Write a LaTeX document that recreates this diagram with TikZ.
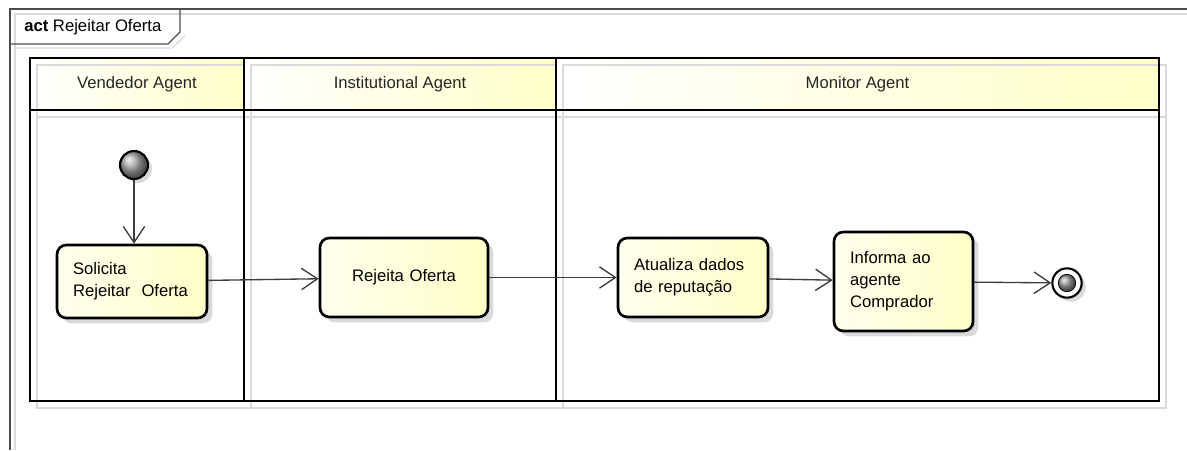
\documentclass[tikz,border=0pt]{standalone}
\usepackage{fontspec}
\setmainfont{Liberation Sans}
\usetikzlibrary{arrows.meta,shadows}
\definecolor{actfill}{RGB}{255,255,200}
\definecolor{actlight}{RGB}{255,255,238}
\definecolor{shadowgray}{RGB}{218,218,218}
\definecolor{flowgray}{RGB}{60,60,60}
\tikzset{
  txt/.style={font=\fontsize{12.5}{16.5}\selectfont},
  action/.style={txt, draw=black, line width=2pt, rounded corners=7pt,
    left color=actlight, right color=actfill, inner xsep=12pt, align=left,
    drop shadow={shadow xshift=4pt, shadow yshift=-4pt, fill=shadowgray, opacity=1}},
  flow/.style={draw=flowgray, line width=1pt, -{Straight Barb[length=12pt,width=16pt]}},
  lanehead/.style={txt, text=black!85},
  laneline/.style={line width=2.2pt, draw=black},
  laneshadow/.style={line width=1.6pt, draw=shadowgray},
}
\begin{document}
\begin{tikzpicture}[x=0.75pt,y=-0.75pt]
    \useasboundingbox[fill=white] (0,0) rectangle (1187,450);
    % frame
    \draw [shadowgray, line width=1pt] (15,450) -- (15,14) -- (1187,14);
    \draw [shadowgray, line width=1pt] (15,48) -- (172,48) -- (185,36);
    \draw [black!70, line width=0.9pt] (10,450) -- (10,9) -- (1187,9);
    \draw [black!70, line width=0.9pt] (10,44) -- (168,44) -- (180,32) -- (180,9);
    \node [txt, anchor=west, inner sep=0pt] (title) at (24,27) {\textbf{act} Rejeitar Oferta};
    % lanes
    \foreach \xa/\xb/\lbl [count=\i] in {30/244/Vendedor Agent,244/556/Institutional Agent,556/1159/Monitor Agent}
    {
      \shade [left color=white, right color=actfill] (\xa,58) rectangle (\xb,110);
      \draw [laneshadow] (\xa+7,65) rectangle (\xb+7,408);
      \draw [laneshadow] (\xa+7,117) -- (\xb+7,117);
      \node [lanehead] (lane\i) at ({(\xa+\xb)/2},84) {\lbl};
    }
    \draw [laneline] (30,58) rectangle (1159,401);
    \draw [laneline] (30,110) -- (1159,110);
    \foreach \x in {244,556}
    \draw [laneline] (\x,58) -- (\x,401);
    % nodes
    \node [circle, draw=black, line width=1.6pt, minimum size=21pt, inner sep=0pt,
      shading=ball, ball color=gray!70,
      drop shadow={shadow xshift=3pt, shadow yshift=-3pt, fill=shadowgray, opacity=1}] (start) at (134,165) {};
    \node [action, text width=88.5pt, minimum height=54.75pt] (solicita) at (132,281.5) {Solicita\\Rejeitar~~Oferta};
    \node [action, text width=102pt, minimum height=59.25pt, align=center] (rejeita) at (404,277.5) {Rejeita Oferta};
    \node [action, text width=88.5pt, minimum height=59.25pt] (atualiza) at (693,277.5) {Atualiza dados\\de reputação};
    \node [action, text width=80.25pt, minimum height=74.25pt] (informa) at (903.5,281.5) {Informa ao\\agente\\Comprador};
    \node [circle, draw=black, line width=1.6pt, fill=white, minimum size=22pt, inner sep=0pt,
      drop shadow={shadow xshift=3pt, shadow yshift=-3pt, fill=shadowgray, opacity=1}] (stop) at (1067,283) {};
    \node [circle, draw=black, line width=0.6pt, minimum size=13pt, inner sep=0pt, shading=ball, ball color=gray!80] (stopdot) at (stop) {};
    % flows
    \draw [flow] (start) -- (start |- solicita.north);
    \draw [flow] (solicita) -- (rejeita);
    \draw [flow] (rejeita) -- (atualiza);
    \draw [flow] (atualiza) -- (informa);
    \draw [flow] (informa) -- (stop);
\end{tikzpicture}
\end{document}
